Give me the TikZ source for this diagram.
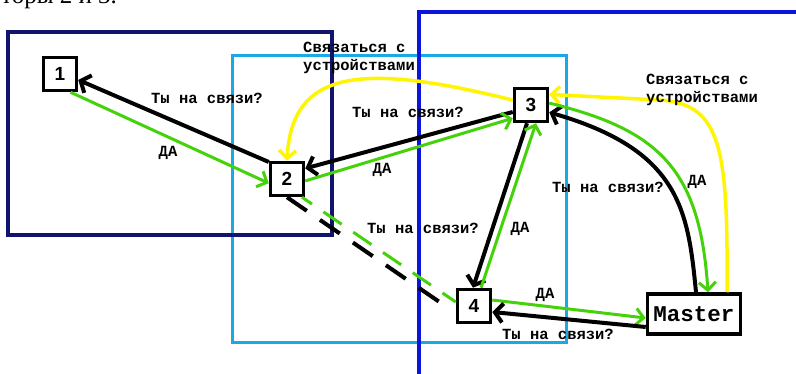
\documentclass[tikz,border=0pt]{standalone}
\usepackage{fontspec}
\setmainfont{Liberation Serif}
\newfontfamily\monof{Liberation Mono}
\newfontfamily\sansf{Liberation Sans}
\usetikzlibrary{arrows.meta}
\definecolor{navyc}{RGB}{16,20,110}
\definecolor{cyanc}{RGB}{25,170,230}
\definecolor{bluec}{RGB}{10,20,220}
\definecolor{greenc}{RGB}{70,210,10}
\definecolor{yellowc}{RGB}{255,245,0}
\begin{document}
\begin{tikzpicture}[x=1pt,y=-1pt,
  nbox/.style={draw=black, line width=3.5pt, fill=white, minimum width=33pt, minimum height=33pt, inner sep=0pt, font=\sansf\bfseries\fontsize{19}{19}\selectfont},
  mbox/.style={draw=black, line width=3.5pt, fill=white, minimum width=93pt, minimum height=40pt, inner sep=0pt, font=\monof\bfseries\fontsize{22.5}{22.5}\selectfont},
  lbl/.style={font=\monof\bfseries\fontsize{15.5}{18}\selectfont, inner sep=0pt, align=left},
  blk/.style={draw=black, line width=4pt, -{Straight Barb[length=8pt,width=19pt]}},
  grn/.style={draw=greenc, line width=3pt, -{Straight Barb[length=8pt,width=17pt]}},
  ylw/.style={draw=yellowc, line width=3.5pt, -{Straight Barb[length=8pt,width=17pt]}},
  frame/.style={line width=3.5pt},
  dsh/.style={line width=4pt, dash pattern=on 24pt off 16pt}]
\path[use as bounding box] (0,0) rectangle (796,374);
\clip (0,0) rectangle (796,374);
\node[anchor=base west, inner sep=0pt, font=\fontsize{25}{25}\selectfont] (top) at (1,4) {торы 2 и 3.};
% frames
\draw[frame, cyanc, line width=3pt] (232,56) rectangle (566,343);
\draw[frame, navyc] (8,32) rectangle (332,235);
\draw[frame, bluec] (810,12) -- (419,12) -- (419,390);
% nodes
\node[nbox] (n1) at (60,74) {1};
\node[nbox] (n2) at (287,179) {2};
\node[nbox] (n3) at (531,105) {3};
\node[nbox] (n4) at (474,306) {4};
\node[mbox] (m) at (694,314) {Master};
% 1-2
\draw[blk] (n2.137) -- (n1.-18);
\draw[grn] (n1.-60) -- (n2.193);
\node[lbl] (l12a) at (207,98) {Ты на связи?};
\node[lbl] (l12b) at (168,153) {ДА};
% 2-3
\draw[blk] (n3.201) -- (n2.30);
\draw[grn] (n2.-6) -- (n3.216);
\node[lbl] (l23a) at (408,112) {Ты на связи?};
\node[lbl] (l23b) at (382,170) {ДА};
\draw[ylw] (n3.165) .. controls (360,62) and (292,70) .. (n2.north);
\node[lbl, anchor=north west] (l23c) at (303,42) {Связаться с\\устройствами};
% 3-Master
\draw[ylw] ([xshift=33pt]m.north) .. controls (728,150) and (722,104) .. (660,100) -- (n3.30);
\node[lbl, anchor=north west] (l3mc) at (646,74) {Связаться с\\устройствами};
\draw[blk] ([xshift=2pt]m.north) .. controls (688,210) and (680,150) .. (n3.-22);
\draw[grn] (n3.6) .. controls (660,130) and (700,170) .. ([xshift=14pt]m.north);
\node[lbl] (l3ma) at (608,187) {Ты на связи?};
\node[lbl] (l3mb) at (697,182) {ДА};
% 3-4
\draw[blk] ([xshift=-4pt]n3.south) -- ([xshift=-1pt]n4.north);
\draw[grn] ([xshift=7pt]n4.north) -- ([xshift=5pt]n3.south);
\node[lbl] (l34a) at (423,228) {Ты на связи?};
\node[lbl] (l34b) at (520,229) {ДА};
% 4-Master
\draw[grn] ([yshift=6pt]n4.east) -- ([yshift=-4pt]m.west);
\draw[blk] ([yshift=-13pt]m.west) -- ([yshift=-6pt]n4.east);
\node[lbl] (l4ma) at (545,295) {ДА};
\node[lbl] (l4mb) at (558,334) {Ты на связи?};
% dashed 2-4
\draw[dsh, black] (n2.south) -- ([xshift=-9pt,yshift=-1pt]n4.west);
\draw[dsh, greenc, line width=3pt, dash pattern=on 22pt off 14pt, dash phase=10pt] ([xshift=15pt]n2.south) -- ([yshift=4pt]n4.west);
\end{tikzpicture}
\end{document}
